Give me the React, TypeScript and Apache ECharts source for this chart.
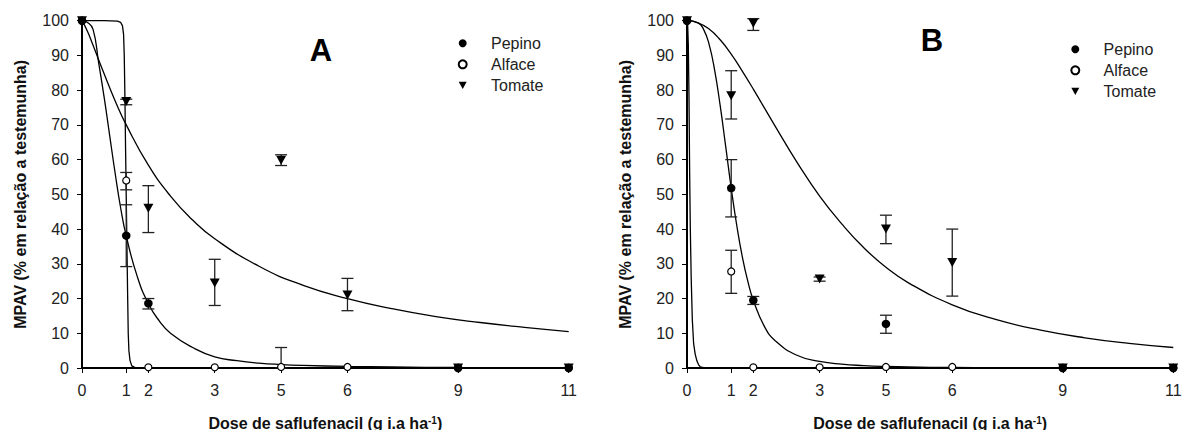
import React, { useEffect, useRef } from 'react';
import * as echarts from 'echarts';

// Axis: positions on the drawn scale and their dose labels
const xPos = [0, 2, 3, 6, 9, 12, 17, 22];
const doseLabels = ['0', '1', '2', '3', '5', '6', '9', '11'];
const legendNames = ['Pepino', 'Alface', 'Tomate'];
const yTitle = 'MPAV (% em relação a testemunha)';
const xTitle = 'Dose de saflufenacil (g i.a ha{sup|-1})';

// ---------- Panel A ----------
const pepinoA = [100, 38.1, 18.6, null, null, null, 0, 0];
const pepinoALow = [null, 29.2, 17, null, null, null, null, null];
const pepinoAHigh = [null, 47, 20, null, null, null, null, null];
const alfaceA = [100, 54, 0.2, 0.2, 0.3, 0.3, 0, 0];
const alfaceALow = [null, 51.3, null, null, 0, null, null, null];
const alfaceAHigh = [null, 56.3, null, null, 5.9, null, null, null];
const tomateA = [100, 76.7, 46, 24.5, 59.8, 21, 0, 0];
const tomateALow = [null, 75.8, 39, 18, 58.3, 16.5, null, null];
const tomateAHigh = [null, 77.4, 52.5, 31.3, 61.4, 25.8, null, null];

const pepinoCurveA = [[0, 100], [0.25, 99.5], [0.5, 97.5], [0.75, 88], [1, 78], [1.25, 67], [1.5, 56], [1.75, 46], [2, 38], [2.5, 26.3], [3, 18.5], [3.5, 13.5], [4, 10], [5, 5.9], [6, 3.2], [7, 2.1], [8, 1.4], [9, 1], [10, 0.75], [12, 0.45], [14, 0.3], [17, 0.15], [22, 0.07]];
const alfaceCurveA = [[0, 100], [1, 100], [1.6, 99.9], [1.75, 99.5], [1.83, 98.5], [1.88, 96], [1.91, 90], [1.94, 78], [1.97, 63], [2.0, 49], [2.03, 36], [2.06, 22], [2.09, 10], [2.12, 5], [2.17, 2.2], [2.25, 0.6], [2.4, 0.1], [3, 0], [22, 0]];
const tomateCurveA = [[0, 100], [0.25, 96.9], [0.5, 92.9], [1, 84.7], [1.5, 76.9], [2, 70], [3, 58.4], [4, 49.5], [5, 42.6], [6, 37.2], [8, 29.3], [10, 23.8], [12, 20], [14, 17.1], [16, 14.8], [18, 13.1], [20, 11.7], [22, 10.5]];

// ---------- Panel B ----------
const pepinoB = [100, 51.8, 19.5, null, 12.7, null, 0, 0];
const pepinoBLow = [null, 43.5, 18.3, null, 10, null, null, null];
const pepinoBHigh = [null, 60, 20.6, null, 15.2, null, null, null];
const alfaceB = [100, 27.8, 0.2, 0.2, 0.3, 0.3, 0, 0];
const alfaceBLow = [null, 21.5, null, null, null, null, null, null];
const alfaceBHigh = [null, 33.9, null, null, null, null, null, null];
const tomateB = [100, 78.4, 99.3, 25.6, 40, 30.4, 0, 0];
const tomateBLow = [null, 71.7, 97.2, 25, 35.8, 20.7, null, null];
const tomateBHigh = [null, 85.6, 100.6, 26.2, 44, 40, null, null];

const pepinoCurveB = [[0, 100], [0.5, 99.4], [0.75, 97.5], [1, 93.2], [1.25, 85.8], [1.5, 75.6], [1.75, 63.8], [2, 51.8], [2.25, 41.1], [2.5, 32.1], [2.75, 25], [3, 19.5], [3.5, 12], [4, 7.8], [5, 3.6], [6, 1.9], [7, 1.1], [8, 0.7], [9, 0.45], [10, 0.3], [12, 0.15], [14, 0.1], [17, 0.05], [22, 0.02]];
const alfaceCurveB = [[0, 100], [0.03, 99], [0.06, 93], [0.09, 78], [0.12, 56], [0.15, 40], [0.19, 26], [0.24, 14], [0.3, 7], [0.37, 4], [0.45, 2], [0.52, 1], [0.6, 0.3], [0.8, 0], [22, 0]];
const tomateCurveB = [[0, 100], [0.5, 99.4], [1, 97.6], [1.5, 94.5], [2, 90.4], [2.5, 85.5], [3, 80.3], [4, 69.5], [5, 59], [6, 49.5], [7, 41.5], [8, 34.6], [9, 29], [10, 24.6], [12, 18.2], [14, 13.9], [16, 10.9], [18, 8.7], [20, 7.1], [22, 5.9]];

const fontFamily = '"Liberation Sans", Arial, Helvetica, sans-serif';
const triangle = 'path://M0,0L10,0L5,9Z';

function toPairs(vals: (number | null)[]) {
  const out: number[][] = [];
  xPos.forEach((x, i) => {
    if (vals[i] != null) out.push([x, vals[i] as number]);
  });
  return out;
}

function toErr(lo: (number | null)[], hi: (number | null)[]) {
  const out: number[][] = [];
  xPos.forEach((x, i) => {
    if (lo[i] != null && hi[i] != null) out.push([x, lo[i] as number, hi[i] as number]);
  });
  return out;
}

function xAxisCfg(gridIndex: number) {
  return {
    type: 'value', gridIndex, min: 0, max: 22,
    name: xTitle, nameLocation: 'middle', nameGap: 47,
    nameTextStyle: {
      fontFamily, fontSize: 16, fontWeight: 'bold', color: '#111',
      rich: { sup: { fontFamily, fontSize: 10, fontWeight: 'bold', color: '#111', verticalAlign: 'top' } },
    },
    axisLine: { show: true, onZero: false, lineStyle: { color: '#000', width: 2 } },
    axisTick: { show: true, customValues: xPos, length: 5, lineStyle: { color: '#000', width: 1 } },
    axisLabel: {
      customValues: xPos,
      formatter: (v: number) => { const i = xPos.indexOf(v); return i >= 0 ? doseLabels[i] : ''; },
      fontFamily, fontSize: 16, color: '#222', margin: 14,
    },
    splitLine: { show: false },
  };
}

function yAxisCfg(gridIndex: number) {
  return {
    type: 'value', gridIndex, min: 0, max: 100, interval: 10,
    name: yTitle, nameLocation: 'middle', nameGap: 54, nameRotate: 90,
    nameTextStyle: { fontFamily, fontSize: 16, fontWeight: 'bold', color: '#111' },
    axisLine: { show: true, onZero: false, lineStyle: { color: '#000', width: 2 } },
    axisTick: { show: true, length: 5, lineStyle: { color: '#000', width: 1 } },
    axisLabel: { fontFamily, fontSize: 16, color: '#222', margin: 13 },
    splitLine: { show: false },
  };
}

function curve(name: string, idx: number, data: number[][], smooth: number | boolean) {
  return {
    type: 'line', name, xAxisIndex: idx, yAxisIndex: idx, data, showSymbol: false,
    smooth, lineStyle: { color: '#000', width: 1.3 }, z: 2, silent: true,
  };
}

function errBars(name: string, idx: number, data: number[][]) {
  return {
    type: 'custom', name, xAxisIndex: idx, yAxisIndex: idx, data, z: 3, silent: true,
    encode: { x: 0, y: [1, 2] },
    renderItem: (params: any, api: any) => {
      const x = api.value(0);
      const lo = api.coord([x, api.value(1)]);
      const hi = api.coord([x, api.value(2)]);
      const w = 6;
      const st = { stroke: '#222', lineWidth: 1.3 };
      return {
        type: 'group',
        children: [
          { type: 'line', shape: { x1: lo[0], y1: lo[1], x2: hi[0], y2: hi[1] }, style: st },
          { type: 'line', shape: { x1: lo[0] - w, y1: lo[1], x2: lo[0] + w, y2: lo[1] }, style: st },
          { type: 'line', shape: { x1: hi[0] - w, y1: hi[1], x2: hi[0] + w, y2: hi[1] }, style: st },
        ],
      };
    },
  };
}

function points(name: string, idx: number, vals: (number | null)[], kind: string) {
  let symbol = 'circle';
  let symbolSize: any = 8.5;
  let itemStyle: any = { color: '#000', opacity: 1 };
  let z = 5;
  if (kind === 'open') {
    symbolSize = 7;
    itemStyle = { color: '#fff', borderColor: '#000', borderWidth: 1.2, opacity: 1 };
    z = 4;
  } else if (kind === 'tri') {
    symbol = triangle;
    symbolSize = [10, 9];
    z = 6;
  }
  return {
    type: 'scatter', name, xAxisIndex: idx, yAxisIndex: idx, data: toPairs(vals),
    symbol, symbolSize, itemStyle, z, clip: false, silent: true,
  };
}

function legendCfg(left: number, top: number) {
  return {
    data: legendNames, orient: 'vertical', left, top,
    itemWidth: 8, itemHeight: 8, itemGap: 5, selectedMode: false,
    textStyle: { fontFamily, fontSize: 16, color: '#222', padding: [0, 0, 0, 19.3] },
  };
}

export default function App() {
  const ref = useRef<HTMLDivElement>(null);
  useEffect(() => {
    if (!ref.current) return;
    const chart = echarts.init(ref.current, undefined, { renderer: 'svg' });
    chart.setOption({
      animation: false,
      backgroundColor: '#fff',
      grid: [
        { left: 82, top: 20.7, width: 486.7, height: 347.3, outerBoundsMode: 'none' },
        { left: 687, top: 20.7, width: 486.3, height: 347.3, outerBoundsMode: 'none' },
      ],
      xAxis: [xAxisCfg(0), xAxisCfg(1)],
      yAxis: [yAxisCfg(0), yAxisCfg(1)],
      legend: [legendCfg(452.7, 30.3), legendCfg(1065.3, 36.3)],
      graphic: [
        { type: 'text', x: 321, y: 50.5, style: { text: 'A', fontFamily, fontSize: 31, fontWeight: 'bold', fill: '#000', align: 'center', verticalAlign: 'middle' } },
        { type: 'text', x: 932, y: 40.5, style: { text: 'B', fontFamily, fontSize: 31, fontWeight: 'bold', fill: '#000', align: 'center', verticalAlign: 'middle' } },
      ],
      series: [
        curve('ajuste Pepino A', 0, pepinoCurveA, 0.5),
        curve('ajuste Alface A', 0, alfaceCurveA, false),
        curve('ajuste Tomate A', 0, tomateCurveA, 0.5),
        errBars('erro Pepino A', 0, toErr(pepinoALow, pepinoAHigh)),
        errBars('erro Alface A', 0, toErr(alfaceALow, alfaceAHigh)),
        errBars('erro Tomate A', 0, toErr(tomateALow, tomateAHigh)),
        points('Pepino', 0, pepinoA, 'filled'),
        points('Alface', 0, alfaceA, 'open'),
        points('Tomate', 0, tomateA, 'tri'),

        curve('ajuste Pepino B', 1, pepinoCurveB, 0.5),
        curve('ajuste Alface B', 1, alfaceCurveB, false),
        curve('ajuste Tomate B', 1, tomateCurveB, 0.5),
        errBars('erro Pepino B', 1, toErr(pepinoBLow, pepinoBHigh)),
        errBars('erro Alface B', 1, toErr(alfaceBLow, alfaceBHigh)),
        errBars('erro Tomate B', 1, toErr(tomateBLow, tomateBHigh)),
        points('Pepino', 1, pepinoB, 'filled'),
        points('Alface', 1, alfaceB, 'open'),
        points('Tomate', 1, tomateB, 'tri'),
      ],
    });
    return () => chart.dispose();
  }, []);
  return (
    <div
      ref={ref}
      style={{ position: 'absolute', left: 0, top: 0, width: 1184, height: 430, background: '#fff' }}
    />
  );
}
